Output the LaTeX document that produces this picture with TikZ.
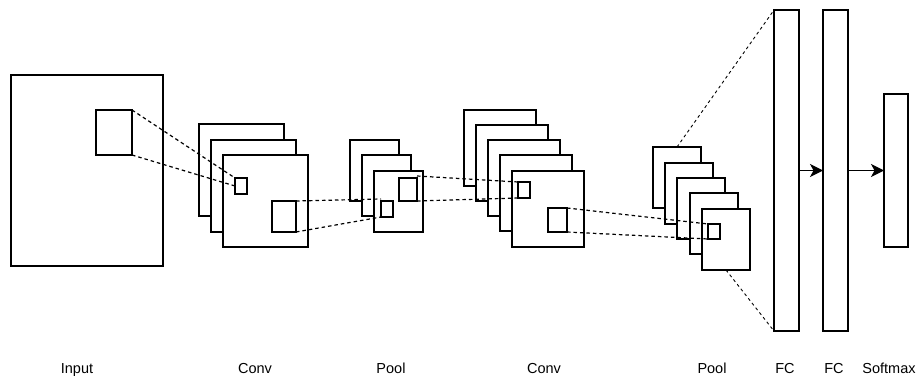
\documentclass[tikz,border=0pt]{standalone}
\usepackage{fontspec}
\setmainfont{Liberation Sans}
\usetikzlibrary{arrows.meta}
\begin{document}
\begin{tikzpicture}[x=1pt,y=-1pt,
  box/.style={draw=black,fill=white,line width=1.2pt,inner sep=0pt,outer sep=0pt,anchor=north west},
  dline/.style={draw=black,line width=1.2pt,dash pattern=on 3.5pt off 3pt},
  thin dline/.style={draw=black,line width=0.9pt,dash pattern=on 3pt off 3pt},
  arr/.style={draw=black,line width=1.2pt,-{Stealth[length=13pt,width=13pt,inset=3.5pt]}},
  lbl/.style={font=\fontsize{14.5}{17}\selectfont,anchor=base,inner sep=0pt}]
\useasboundingbox (0,0) rectangle (917,379);
% Input
\node[box,minimum width=152,minimum height=191] (in) at (11,75) {};
\node[box,minimum width=36,minimum height=45] (inS) at (96,110) {};
% Conv 1
\node[box,minimum width=85,minimum height=92] (c1a) at (199,124) {};
\node[box,minimum width=85,minimum height=92] (c1b) at (211,140) {};
\node[box,minimum width=85,minimum height=92] (c1c) at (223,155) {};
\node[box,minimum width=12,minimum height=16] (c1s) at (235,178) {};
\node[box,minimum width=24,minimum height=31] (c1L) at (272,201) {};
% Pool 1
\node[box,minimum width=49,minimum height=61] (p1a) at (350,140) {};
\node[box,minimum width=49,minimum height=61] (p1b) at (362,155) {};
\node[box,minimum width=49,minimum height=61] (p1c) at (374,171) {};
\node[box,minimum width=12,minimum height=16] (p1s) at (381,201) {};
\node[box,minimum width=18,minimum height=23] (p1L) at (399,178) {};
% Conv 2
\node[box,minimum width=72,minimum height=76] (c2a) at (464,110) {};
\node[box,minimum width=72,minimum height=76] (c2b) at (476,125) {};
\node[box,minimum width=72,minimum height=76] (c2c) at (488,140) {};
\node[box,minimum width=72,minimum height=76] (c2d) at (500,155) {};
\node[box,minimum width=72,minimum height=76] (c2e) at (512,171) {};
\node[box,minimum width=12,minimum height=16] (c2s) at (518,182) {};
\node[box,minimum width=19,minimum height=24] (c2L) at (548,208) {};
% Pool 2
\node[box,minimum width=48,minimum height=61] (p2a) at (653,147) {};
\node[box,minimum width=48,minimum height=61] (p2b) at (665,163) {};
\node[box,minimum width=48,minimum height=61] (p2c) at (677,178) {};
\node[box,minimum width=48,minimum height=61] (p2d) at (690,193) {};
\node[box,minimum width=48,minimum height=61] (p2e) at (702,209) {};
\node[box,minimum width=12,minimum height=15] (p2s) at (708,224) {};
% FC and Softmax
\node[box,minimum width=25,minimum height=321] (fc1) at (774,10) {};
\node[box,minimum width=25,minimum height=321] (fc2) at (823,10) {};
\node[box,minimum width=24,minimum height=153] (sm) at (884,94) {};
% dashed connectors
\draw[dline] (inS.north east) -- (c1s.north west);
\draw[dline] (inS.south east) -- (c1s.west);
\draw[dline] (c1L.north east) -- ([yshift=2pt]p1s.north west);
\draw[dline] (c1L.south east) -- (p1s.south west);
\draw[dline] ([yshift=2pt]p1L.north east) -- (c2s.north west);
\draw[dline] (p1L.south east) -- (c2s.south west);
\draw[dline] (c2L.north east) -- (p2s.north west);
\draw[dline] (c2L.south east) -- (p2s.south west);
\draw[thin dline] (p2a.north) -- (fc1.north west);
\draw[thin dline] (p2e.south) -- (fc1.south west);
% arrows
\draw[arr] (fc1.east) -- (fc2.west);
\draw[arr] (fc2.east) -- (sm.west);
% labels
\node[lbl] (tIn) at (77,373) {Input};
\node[lbl] (tC1) at (255,373) {Conv};
\node[lbl] (tP1) at (391,373) {Pool};
\node[lbl] (tC2) at (544,373) {Conv};
\node[lbl] (tP2) at (712,373) {Pool};
\node[lbl] (tF1) at (785,373) {FC};
\node[lbl] (tF2) at (834,373) {FC};
\node[lbl] (tSm) at (889,373) {Softmax};
\end{tikzpicture}
\end{document}
